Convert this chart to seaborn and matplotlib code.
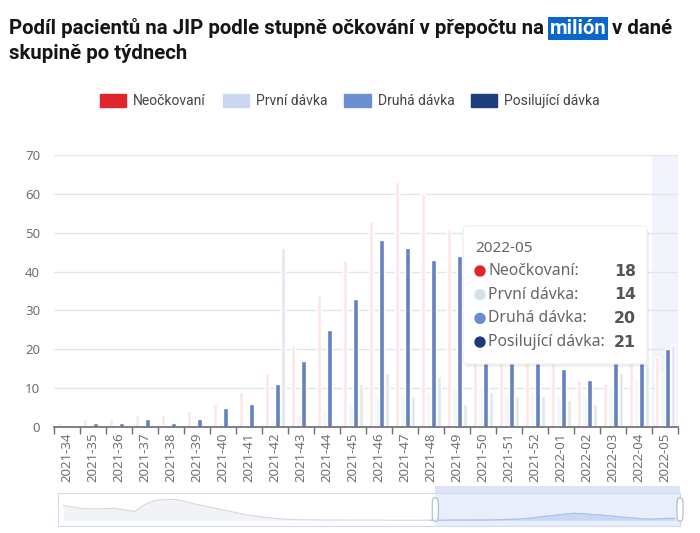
import matplotlib.pyplot as plt
import matplotlib.patches as mpatches
import numpy as np
import pandas as pd
import seaborn as sns

weeks = [
    "2021-34", "2021-35", "2021-36", "2021-37", "2021-38", "2021-39",
    "2021-40", "2021-41", "2021-42", "2021-43", "2021-44", "2021-45",
    "2021-46", "2021-47", "2021-48", "2021-49", "2021-50", "2021-51",
    "2021-52", "2022-01", "2022-02", "2022-03", "2022-04", "2022-05",
]
series_names = ["Neočkovaní", "První dávka", "Druhá dávka", "Posilující dávka"]
neockovani = [1, 2, 2, 3, 3, 4, 6, 9, 14, 21, 34, 43, 53, 63, 60, 51, 45, 37, 28, 20, 12, 11, 17, 18]
prvni = [0, 0, 0, 0, 0, 0, 1, 1, 2, 3, 4, 6, 8, 9, 9, 10, 10, 9, 9, 8, 8, 10, 12, 14]
druha = [0, 1, 1, 2, 1, 2, 5, 6, 11, 17, 25, 33, 48, 46, 43, 44, 36, 28, 22, 15, 12, 17, 18, 20]
posilujici = [0, 0, 0, 0, 0, 0, 0, 0, 46, 0, 0, 11, 14, 8, 13, 6, 9, 8, 8, 7, 6, 14, 16, 21]
# earlier weeks shown only in the zoom slider overview
overview_early = [132, 120, 104, 104, 104, 110, 95, 79, 142, 180, 186, 189, 170, 145, 126,
                  107, 88, 69, 50, 38, 25, 16, 9, 6, 5, 4, 3, 3, 2, 2, 2, 2, 1, 1, 1, 1, 1]

legend_colors = ["#e0262a", "#c9d8f0", "#6b8fd0", "#1e3d7c"]
bar_colors = ["#fde6e6", "#f3f6fc", "#6482c0", "#e2e7f0"]

W, H = 700, 533


def fx(x):
    return x / W


def fy(y):
    return 1 - y / H


df = pd.DataFrame({
    "week": weeks * 4,
    "series": np.repeat(series_names, len(weeks)),
    "value": neockovani + prvni + druha + posilujici,
})

sns.set_theme(style="white")
title_font = ["Roboto", "DejaVu Sans"]
axis_font = ["Noto Sans", "DejaVu Sans"]
plt.rcParams["font.family"] = axis_font

fig = plt.figure(figsize=(7, 5.33), dpi=100)
ax = fig.add_axes([fx(54), fy(427), fx(678) - fx(54), fy(155) - fy(427)])

# hover shadow on last category
ax.axvspan(len(weeks) - 1.5, len(weeks) - 0.5, color="#f1f4fa", zorder=0, lw=0)

sns.barplot(
    data=df, x="week", y="value", hue="series", hue_order=series_names,
    palette=dict(zip(series_names, bar_colors)), saturation=1,
    width=0.8, gap=0.15, legend=False, ax=ax, zorder=2,
)

ax.set_xlim(-0.5, len(weeks) - 0.5)
ax.set_ylim(0, 70)
ax.set_yticks(range(0, 71, 10))
ax.yaxis.grid(True, color="#e0e6f1", lw=1)
ax.set_axisbelow(True)
ax.set_xlabel("")
ax.set_ylabel("")
ax.set_xticks(np.arange(-0.5, len(weeks), 1))
ax.set_xticklabels([])
ax.set_xticks(range(len(weeks)), minor=True)
ax.set_xticklabels(weeks, minor=True, rotation=90, fontsize=9.5, color="#6e7079")
ax.tick_params(axis="x", which="major", length=5, color="#6e7079", width=1, bottom=True)
ax.tick_params(axis="x", which="minor", length=0, pad=4)
ax.tick_params(axis="y", length=0, labelsize=9.5, labelcolor="#6e7079", pad=10)
sns.despine(ax=ax, left=True)
ax.spines["bottom"].set_color("#6e7079")

# title with the highlighted word
tsize = 14.7
t1 = fig.text(fx(9), fy(38), "Podíl pacientů na JIP podle stupně očkování v přepočtu na",
              fontsize=tsize, fontweight="bold", family=title_font, color="#151515", va="bottom")
t2 = ax.annotate("milión", xy=(1, 0), xycoords=t1, xytext=(4, 0), textcoords="offset points",
                 va="bottom", ha="left", fontsize=tsize, fontweight="bold", family=title_font,
                 color="white", bbox=dict(boxstyle="square,pad=0.08", fc="#0a66c8", ec="none"))
ax.annotate("v dané", xy=(1, 0), xycoords=t2, xytext=(4, 0), textcoords="offset points",
            va="bottom", ha="left", fontsize=tsize, fontweight="bold", family=title_font,
            color="#151515")
fig.text(fx(9), fy(63), "skupině po týdnech", fontsize=tsize, fontweight="bold",
         family=title_font, color="#151515", va="bottom")

# legend
handles = [mpatches.Patch(color=c, label=n) for c, n in zip(legend_colors, series_names)]
fig.legend(handles=handles, loc="center", bbox_to_anchor=(0.5, fy(101)), ncol=4,
           frameon=False, handlelength=1.9, handleheight=1.1, columnspacing=1.2,
           handletextpad=0.5, prop={"family": title_font, "size": 10}, labelcolor="#444444")

# tooltip
tip = mpatches.FancyBboxPatch((fx(463), fy(364)), fx(647) - fx(463), fy(226) - fy(364),
                              boxstyle="round,pad=0,rounding_size=0.006", transform=fig.transFigure,
                              fc="white", ec="#eeeeee", lw=0.8, zorder=10)
shadow = mpatches.FancyBboxPatch((fx(465), fy(367)), fx(647) - fx(463), fy(226) - fy(364),
                                 boxstyle="round,pad=0,rounding_size=0.006", transform=fig.transFigure,
                                 fc="#000000", alpha=0.06, ec="none", zorder=9)
fig.add_artist(shadow)
fig.add_artist(tip)
fig.text(fx(475), fy(248), weeks[-1], fontsize=11, color="#666666", va="center", zorder=11)
tip_values = [neockovani[-1], prvni[-1], druha[-1], posilujici[-1]]
tip_colors = ["#e0262a", "#d4dff0", "#6a8ccc", "#1f3a7a"]
for i, (name, val, col) in enumerate(zip(series_names, tip_values, tip_colors)):
    yy = 271 + i * 23.7
    fig.add_artist(mpatches.Ellipse((fx(480), fy(yy)), 10 / W, 10 / H, color=col,
                                    transform=fig.transFigure, zorder=11))
    fig.text(fx(488), fy(yy), name + ":", fontsize=11.3, color="#666666", va="center", zorder=11)
    fig.text(fx(636), fy(yy), str(val), fontsize=11.3, color="#555555", va="center",
             ha="right", fontweight="bold", family=["DejaVu Sans"], zorder=11)

# zoom slider with overview line
overview = overview_early + neockovani
xs = np.arange(len(overview))
sel0 = len(overview_early) - 0.5
sax = fig.add_axes([fx(58), fy(526), fx(680) - fx(58), fy(493) - fy(526)])
sax.fill_between(xs, overview, color="#f1f3f7", lw=0)
sns.lineplot(x=xs, y=overview, color="#d5d8de", lw=0.8, ax=sax)
sel = xs >= len(overview_early) - 1
sax.fill_between(xs[sel], np.array(overview)[sel], color="#c8d7f5", lw=0)
sax.plot(xs[sel], np.array(overview)[sel], color="#a9c0f0", lw=0.8)
sax.axvspan(sel0, len(overview) - 0.5, color="#dfe8f9", alpha=0.7, lw=0, zorder=0)
sax.add_patch(mpatches.Rectangle((sel0, 1.0), len(overview) - 0.5 - sel0, 0.22,
                                 transform=sax.get_xaxis_transform(), clip_on=False,
                                 color="#dbe5f7", lw=0))
for hx in [sel0, len(overview) - 0.5]:
    sax.add_patch(mpatches.FancyBboxPatch((hx - 0.3, 0.15), 0.6, 0.7,
                                          boxstyle="round,pad=0,rounding_size=0.2",
                                          transform=sax.get_xaxis_transform(), clip_on=False,
                                          fc="white", ec="#acb8d1", lw=0.8, zorder=5))
m = max(overview)
sax.set_xlim(-0.5, len(overview) - 0.5)
sax.set_ylim(-0.27 * m, 1.3 * m)
sax.set_xticks([])
sax.set_yticks([])
for s in sax.spines.values():
    s.set_color("#d2dbee")
    s.set_linewidth(0.8)

plt.savefig("out.png", dpi=100)
plt.close()
